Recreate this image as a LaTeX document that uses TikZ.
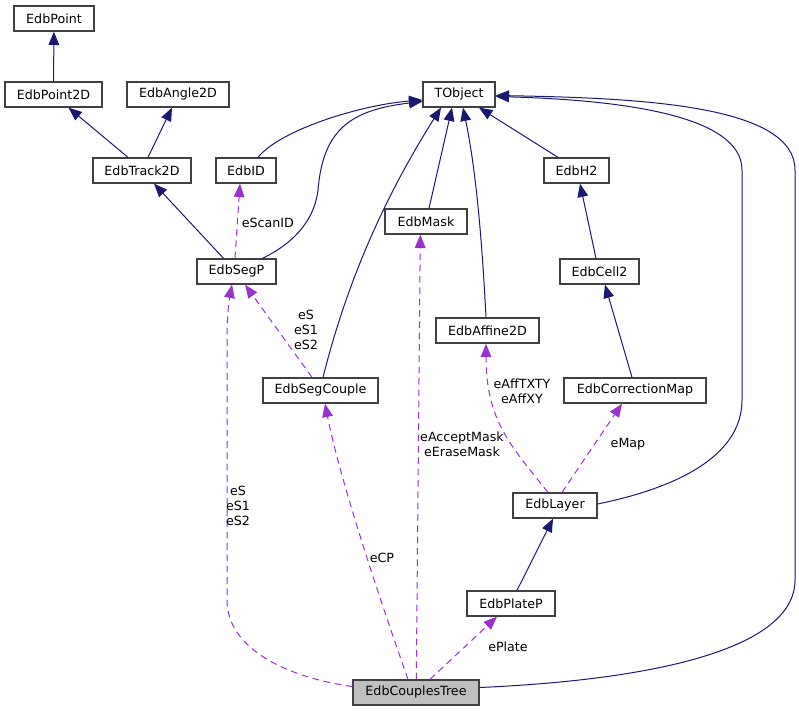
\documentclass[tikz,border=0pt]{standalone}
\usepackage{fontspec}
\setmainfont{DejaVu Sans}
\usetikzlibrary{arrows.meta,calc}
\definecolor{edgeblue}{HTML}{191970}
\definecolor{edgepurple}{HTML}{9A32CD}
\definecolor{boxline}{HTML}{404040}
\definecolor{boxgray}{HTML}{BFBFBF}
\begin{document}
\begin{tikzpicture}[x=0.75pt,y=-0.75pt,
  font=\fontsize{9.5}{11.25}\selectfont,
  cls/.style={draw=boxline, line width=1pt, fill=white, inner sep=0pt,
    minimum height=18.75pt, minimum width=#1*0.75pt},
  inh/.style={draw=edgeblue, line width=0.75pt, -{Triangle[length=10pt,width=8pt]}},
  use/.style={draw=edgepurple, line width=0.75pt, dash pattern=on 5pt off 3.5pt,
    -{Triangle[length=10pt,width=8pt]}},
  lbl/.style={align=center, inner sep=0pt}]
\useasboundingbox (0,0) rectangle (799,712);

% nodes
\node[cls=80]  (EdbPoint)    at (54,18.5)   {EdbPoint};
\node[cls=97]  (EdbPoint2D)  at (53.5,94.5) {EdbPoint2D};
\node[cls=102] (EdbAngle2D)  at (178,94.5)  {EdbAngle2D};
\node[cls=98]  (EdbTrack2D)  at (142,170.5) {EdbTrack2D};
\node[cls=60]  (EdbID)       at (246,170.5) {EdbID};
\node[cls=72]  (TObject)     at (459,94.5)  {TObject};
\node[cls=65]  (EdbH2)       at (576.5,170.5) {EdbH2};
\node[cls=79]  (EdbSegP)     at (236.5,271.5) {EdbSegP};
\node[cls=82]  (EdbMask)     at (426,221.5) {EdbMask};
\node[cls=79]  (EdbCell2)    at (599.5,271.5) {EdbCell2};
\node[cls=103] (EdbAffine2D) at (487.5,330.5) {EdbAffine2D};
\node[cls=115] (EdbSegCouple) at (320.5,390.5) {EdbSegCouple};
\node[cls=142] (EdbCorrectionMap) at (635,390.5) {EdbCorrectionMap};
\node[cls=84]  (EdbLayer)    at (555,505.5) {EdbLayer};
\node[cls=88]  (EdbPlateP)   at (511,603.5) {EdbPlateP};
\node[cls=126, fill=boxgray] (EdbCouplesTree) at (416,692.5) {EdbCouplesTree};

% inheritance edges
\draw[inh] (EdbPoint2D) -- (EdbPoint);
\draw[inh] ($(EdbTrack2D.north)+(-14,0)$) -- ($(EdbPoint2D.south)+(15,0)$);
\draw[inh] ($(EdbTrack2D.north)+(6,0)$) -- ($(EdbAngle2D.south)+(-6,0)$);
\draw[inh] ($(EdbSegP.north)+(-13,0)$) -- ($(EdbTrack2D.south)+(12,0)$);
\draw[inh] ($(EdbID.north)+(12,0)$) .. controls (280,130) and (360,105) .. ($(TObject.west)+(0,5.5)$);
\draw[inh] ($(EdbSegP.north)+(26,0)$) .. controls (300,240) and (315,215) .. (318,190)
   .. controls (323,130) and (350,110) .. ($(TObject.west)+(0,7)$);
\draw[inh] ($(EdbSegCouple.north)+(2.5,0)$) .. controls (340,310) and (370,220) .. ($(TObject.south)+(-18,0)$);
\draw[inh] ($(EdbMask.north)+(3,0)$) -- ($(TObject.south)+(-7,0)$);
\draw[inh] ($(EdbAffine2D.north)+(-1.5,0)$) .. controls (482,240) and (476,170) .. ($(TObject.south)+(4,0)$);
\draw[inh] ($(EdbH2.north)+(-18.5,0)$) -- ($(TObject.south)+(20,0)$);
\draw[inh] ($(EdbCell2.north)+(-3.5,0)$) -- ($(EdbH2.south)+(3.5,0)$);
\draw[inh] ($(EdbCorrectionMap.north)+(-3,0)$) -- ($(EdbCell2.south)+(5.5,0)$);
\draw[inh] ($(EdbPlateP.north)+(6,0)$) -- ($(EdbLayer.south)+(-2,0)$);
\draw[inh] ($(EdbLayer.east)+(0,-1.5)$) .. controls (690,485) and (742,450) .. (742,400)
   -- (742,170) .. controls (742,115) and (620,100) .. ($(TObject.east)+(0,2)$);
\draw[inh] ($(EdbCouplesTree.east)+(0,-5)$) .. controls (650,680) and (795,650) .. (795,580)
   -- (795,170) .. controls (795,105) and (640,98) .. ($(TObject.east)+(0,1)$);

% usage edges
\draw[use] ($(EdbSegP.north)+(-1.5,0)$) -- ($(EdbID.south)+(-6,0)$)
   node[lbl, pos=0.47, right=3pt] {eScanID};
\draw[use] ($(EdbSegCouple.north)+(-8.5,0)$) -- ($(EdbSegP.south)+(8.5,0)$);
\node[lbl] (lblS1) at (306,330) {eS\\eS1\\eS2};
\draw[use] ($(EdbCouplesTree.west)+(0,-6)$) .. controls (290,678) and (227,650) .. (227,600)
   -- (227,340) .. controls (227,310) and (230,295) .. ($(EdbSegP.south)+(-4.5,0)$);
\node[lbl] (lblS2) at (238,506) {eS\\eS1\\eS2};
\draw[use] ($(EdbCouplesTree.north)+(-8,0)$) .. controls (380,600) and (340,480) .. ($(EdbSegCouple.south)+(4.5,0)$);
\node[lbl] (lblCP) at (382,558) {eCP};
\draw[use] ($(EdbCouplesTree.north)+(0.3,0)$) -- ($(EdbMask.south)+(-5.7,0)$);
\node[lbl] (lblMask) at (462,444) {eAcceptMask\\eEraseMask};
\draw[use] ($(EdbLayer.north)+(-7,0)$) .. controls (510,445) and (486,420) .. ($(EdbAffine2D.south)+(-1.5,0)$);
\node[lbl] (lblAff) at (522,391) {eAffTXTY\\eAffXY};
\draw[use] ($(EdbLayer.north)+(7,0)$) -- ($(EdbCorrectionMap.south)+(-13,0)$);
\node[lbl] (lblMap) at (628,444) {eMap};
\draw[use] ($(EdbCouplesTree.north)+(14,0)$) -- ($(EdbPlateP.south)+(-14,0)$);
\node[lbl] (lblPlate) at (508,647) {ePlate};
\end{tikzpicture}
\end{document}
